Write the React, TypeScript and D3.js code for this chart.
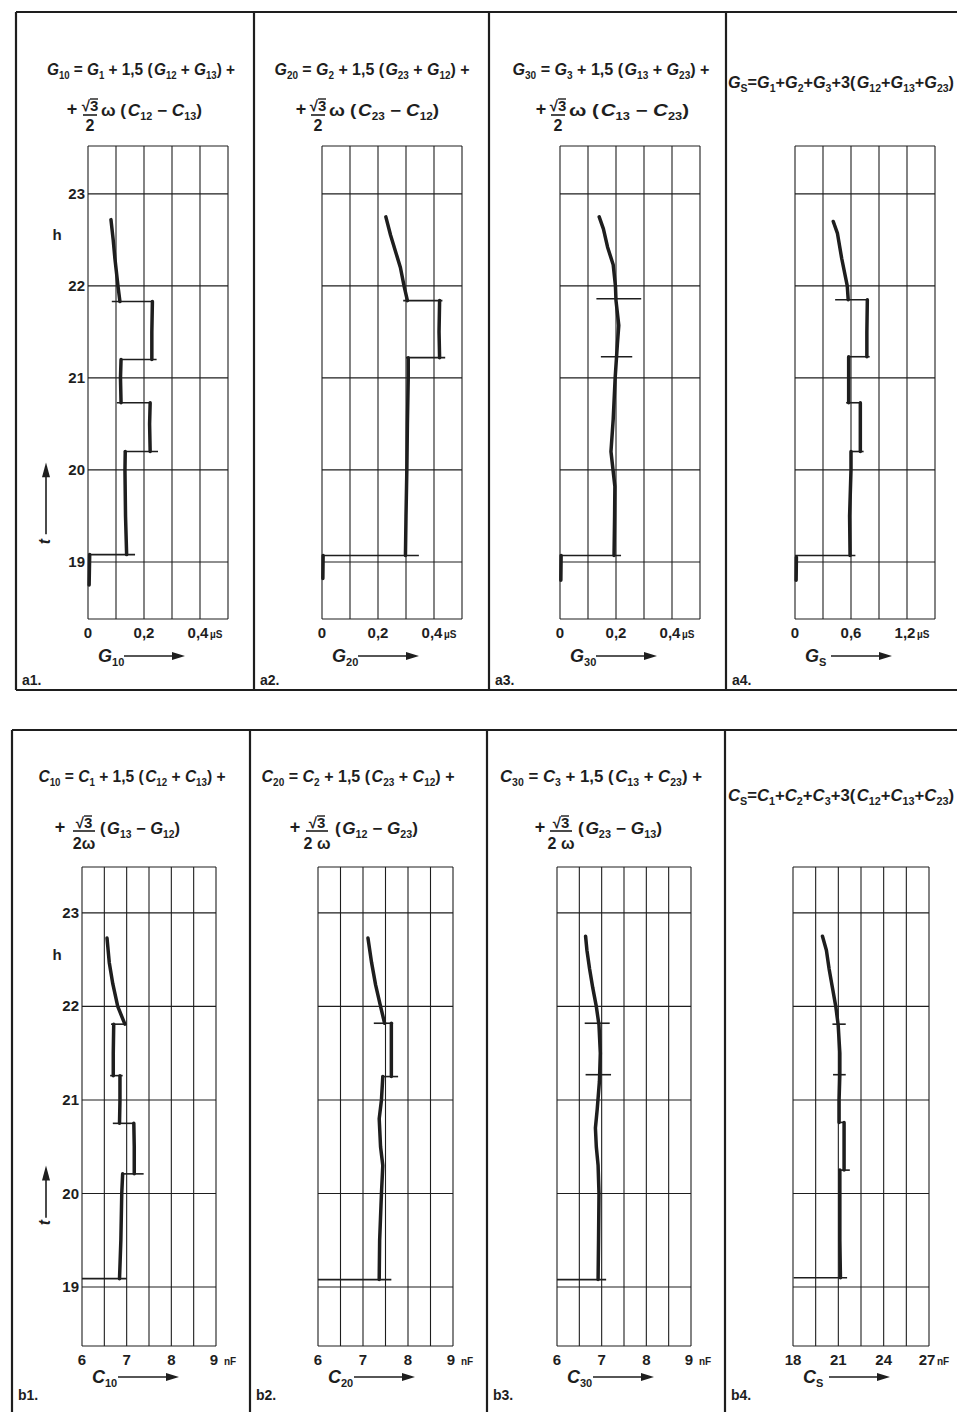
import React from "react";
import * as d3 from "d3";

const width = 957;
const height = 1412;

type Pt = [number, number] | null; // [hour, value], null = pen lifted
type Mark = [number, number, number]; // [hour, from, to]

// vertical axis (time of day)
const hourTicks = [19, 20, 21, 22, 23];

// horizontal tick labels
const gTicks = [0, 0.2, 0.4];
const gsTicks = [0, 0.6, 1.2];
const cTicks = [6, 7, 8, 9];
const csTicks = [18, 21, 24, 27];

// G10 trace (µS)
const g10Trace: Pt[] = [
  [18.75, 0.004], [19.08, 0.006], null,
  [19.08, 0.138], [19.5, 0.134], [20.0, 0.132], [20.2, 0.133], null,
  [20.2, 0.222], [20.5, 0.22], [20.73, 0.222], null,
  [20.73, 0.118], [21.0, 0.116], [21.2, 0.118], null,
  [21.2, 0.228], [21.5, 0.228], [21.83, 0.23], null,
  [21.83, 0.114], [22.0, 0.107], [22.3, 0.096], [22.5, 0.09], [22.72, 0.082],
];
const g10Marks: Mark[] = [
  [19.08, 0, 0.168], [20.2, 0.128, 0.25], [20.73, 0.103, 0.225],
  [21.2, 0.115, 0.245], [21.83, 0.085, 0.232],
];

// G20 trace
const g20Trace: Pt[] = [
  [18.82, 0.003], [19.07, 0.004], null,
  [19.07, 0.298], [19.5, 0.3], [20.0, 0.303], [20.5, 0.305], [21.0, 0.308], [21.22, 0.308], null,
  [21.22, 0.42], [21.5, 0.418], [21.84, 0.42], null,
  [21.84, 0.305], [22.0, 0.293], [22.2, 0.28], [22.35, 0.265], [22.55, 0.245], [22.75, 0.228],
];
const g20Marks: Mark[] = [[19.07, 0, 0.346], [21.22, 0.3, 0.44], [21.84, 0.29, 0.43]];

// G30 trace
const g30Trace: Pt[] = [
  [18.8, 0.003], [19.07, 0.004], null,
  [19.07, 0.193], [19.5, 0.195], [19.82, 0.196], [20.2, 0.182], [20.55, 0.19], [21.0, 0.197],
  [21.37, 0.205], [21.57, 0.21], [21.84, 0.2], [22.0, 0.198], [22.23, 0.19], [22.42, 0.17],
  [22.62, 0.155], [22.75, 0.14],
];
const g30Marks: Mark[] = [[19.07, 0, 0.218], [21.23, 0.146, 0.258], [21.86, 0.13, 0.29]];

// GS trace
const gsTrace: Pt[] = [
  [18.8, 0.012], [19.05, 0.015], null,
  [19.07, 0.59], [19.5, 0.585], [20.0, 0.6], [20.2, 0.6], null,
  [20.2, 0.7], [20.5, 0.7], [20.73, 0.7], null,
  [20.73, 0.575], [21.0, 0.575], [21.23, 0.575], null,
  [21.23, 0.77], [21.5, 0.77], [21.85, 0.775], null,
  [21.85, 0.57], [22.0, 0.56], [22.3, 0.5], [22.57, 0.455], [22.7, 0.41],
];
const gsMarks: Mark[] = [
  [19.07, 0, 0.647], [20.2, 0.6, 0.735], [20.73, 0.548, 0.7],
  [21.23, 0.576, 0.8], [21.85, 0.43, 0.78],
];

// C10 trace (nF)
const c10Trace: Pt[] = [
  [19.09, 6.84], [19.5, 6.87], [20.0, 6.89], [20.21, 6.91], null,
  [20.21, 7.17], [20.5, 7.17], [20.75, 7.16], null,
  [20.75, 6.84], [21.0, 6.85], [21.26, 6.85], null,
  [21.26, 6.7], [21.5, 6.7], [21.81, 6.71], null,
  [21.81, 6.96], [22.0, 6.8], [22.24, 6.69], [22.47, 6.61], [22.73, 6.56],
];
const c10Marks: Mark[] = [
  [19.09, 6.0, 7.0], [20.21, 6.91, 7.38], [20.75, 6.69, 7.17],
  [21.26, 6.63, 6.91], [21.81, 6.65, 7.0],
];

// C20 trace
const c20Trace: Pt[] = [
  [19.08, 7.36], [19.5, 7.37], [20.0, 7.41], [20.3, 7.44], [20.5, 7.39], [20.8, 7.36],
  [21.0, 7.41], [21.25, 7.44], null,
  [21.25, 7.63], [21.5, 7.63], [21.82, 7.63], null,
  [21.82, 7.48], [22.0, 7.39], [22.23, 7.28], [22.47, 7.19], [22.73, 7.11],
];
const c20Marks: Mark[] = [[19.08, 6.0, 7.63], [21.25, 7.41, 7.78], [21.82, 7.24, 7.67]];

// C30 trace
const c30Trace: Pt[] = [
  [19.08, 6.92], [19.5, 6.93], [20.0, 6.94], [20.3, 6.92], [20.5, 6.88], [20.7, 6.86],
  [20.9, 6.9], [21.2, 6.95], [21.5, 6.97], [21.8, 6.94], [22.0, 6.88], [22.2, 6.8],
  [22.4, 6.73], [22.6, 6.67], [22.75, 6.64],
];
const c30Marks: Mark[] = [[19.08, 6.0, 7.1], [21.27, 6.64, 7.21], [21.82, 6.62, 7.18]];

// CS trace
const csTrace: Pt[] = [
  [19.1, 21.14], [19.5, 21.1], [20.0, 21.1], [20.25, 21.1], null,
  [20.25, 21.38], [20.5, 21.38], [20.76, 21.38], null,
  [20.76, 21.05], [21.0, 21.05], [21.27, 21.1], [21.5, 21.1], [21.8, 20.99], [22.0, 20.83],
  [22.2, 20.61], [22.4, 20.39], [22.6, 20.21], [22.75, 19.95],
];
const csMarks: Mark[] = [
  [19.1, 18.04, 21.58], [20.25, 20.99, 21.76], [20.76, 20.99, 21.43],
  [21.27, 20.65, 21.49], [21.81, 20.61, 21.49],
];

// formulas
const line1 = [
  "G_{10} = G_{1} + 1,5 (G_{12} + G_{13}) +",
  "G_{20} = G_{2} + 1,5 (G_{23} + G_{12}) +",
  "G_{30} = G_{3} + 1,5 (G_{13} + G_{23}) +",
  "G_{S}=G_{1}+G_{2}+G_{3}+3(G_{12}+G_{13}+G_{23})",
  "C_{10} = C_{1} + 1,5 (C_{12} + C_{13}) +",
  "C_{20} = C_{2} + 1,5 (C_{23} + C_{12}) +",
  "C_{30} = C_{3} + 1,5 (C_{13} + C_{23}) +",
  "C_{S}=C_{1}+C_{2}+C_{3}+3(C_{12}+C_{13}+C_{23})",
];
const line2 = [
  "ω (C_{12} − C_{13})",
  "ω (C_{23} − C_{12})",
  "ω (C_{13} − C_{23})",
  "",
  "(G_{13} − G_{12})",
  "(G_{12} − G_{23})",
  "(G_{23} − G_{13})",
  "",
];
const fracDen = ["2", "2", "2", "", "2ω", "2 ω", "2 ω", ""];
const axisNames = ["G_{10}", "G_{20}", "G_{30}", "G_{S}", "C_{10}", "C_{20}", "C_{30}", "C_{S}"];
const panelLabels = ["a1.", "a2.", "a3.", "a4.", "b1.", "b2.", "b3.", "b4."];

const topRow = { top: 146, bottom: 619, hours: [18.38, 23.52], frameTop: 12, frameBottom: 690 };
const botRow = { top: 867, bottom: 1346, hours: [18.37, 23.49], frameTop: 730, frameBottom: 1420 };

const panels = [
  { row: topRow, fx: 16, gx: 88, gw: 140, dom: [0, 0.5], cols: 5, ticks: gTicks, unit: "µS", trace: g10Trace, marks: g10Marks, t1x: 141, t1w: 188, plus: 72, frac: 90, rest: 101, restW: 101, hours: true },
  { row: topRow, fx: 254, gx: 322, gw: 140, dom: [0, 0.5], cols: 5, ticks: gTicks, unit: "µS", trace: g20Trace, marks: g20Marks, t1x: 372, t1w: 195, plus: 301, frac: 318, rest: 329, restW: 110, hours: false },
  { row: topRow, fx: 489, gx: 560, gw: 140, dom: [0, 0.5], cols: 5, ticks: gTicks, unit: "µS", trace: g30Trace, marks: g30Marks, t1x: 611, t1w: 197, plus: 541, frac: 558, rest: 569, restW: 120, hours: false },
  { row: topRow, fx: 726, gx: 795, gw: 140, dom: [0, 1.5], cols: 5, ticks: gsTicks, unit: "µS", trace: gsTrace, marks: gsMarks, t1x: 728, t1w: 226, plus: 0, frac: 0, rest: 0, restW: 0, hours: false },
  { row: botRow, fx: 12, gx: 82, gw: 134, dom: [6, 9], cols: 6, ticks: cTicks, unit: "nF", trace: c10Trace, marks: c10Marks, t1x: 132, t1w: 187, plus: 60, frac: 84, rest: 100, restW: 80, hours: true },
  { row: botRow, fx: 250, gx: 318, gw: 135, dom: [6, 9], cols: 6, ticks: cTicks, unit: "nF", trace: c20Trace, marks: c20Marks, t1x: 358, t1w: 193, plus: 295, frac: 317, rest: 335, restW: 83, hours: false },
  { row: botRow, fx: 487, gx: 557, gw: 134, dom: [6, 9], cols: 6, ticks: cTicks, unit: "nF", trace: c30Trace, marks: c30Marks, t1x: 601, t1w: 202, plus: 540, frac: 561, rest: 578, restW: 84, hours: false },
  { row: botRow, fx: 725, gx: 793, gw: 136, dom: [18, 27], cols: 6, ticks: csTicks, unit: "nF", trace: csTrace, marks: csMarks, t1x: 728, t1w: 226, plus: 0, frac: 0, rest: 0, restW: 0, hours: false },
];

const ink = "#1e1e1e";
const font = "'Liberation Sans', Arial, sans-serif";
const fmt = (v: number) => String(v).replace(".", ",");

function parse(s: string) {
  const out: { t: string; it: boolean; sub?: string }[] = [];
  const re = /([GCω])(?:_\{([^}]*)\})?|([^GCω]+)/g;
  let m: RegExpExecArray | null;
  while ((m = re.exec(s))) {
    if (m[1]) out.push({ t: m[1], it: m[1] !== "ω", sub: m[2] });
    else out.push({ t: m[3], it: false });
  }
  return out;
}

// one line of formula text: italic letters, lowered small subscripts
function Formula({ x, y, s, size = 16, anchor = "middle", len }: any) {
  let shift = 0;
  let prev = "";
  const sub = Math.round(size * 0.62);
  const nodes: any[] = [];
  parse(s).forEach((p, i) => {
    nodes.push(
      <tspan
        key={i + "a"}
        dx={p.it && prev.endsWith("(") ? 1.5 : 0}
        dy={-shift}
        fontStyle={p.it ? "italic" : "normal"}
      >
        {p.t}
      </tspan>
    );
    prev = p.t;
    shift = 0;
    if (p.sub) {
      nodes.push(
        <tspan key={i + "b"} dy={4} fontSize={sub} fontStyle="normal">
          {p.sub}
        </tspan>
      );
      shift = 4;
      prev = p.sub;
    }
  });
  return (
    <text
      x={x}
      y={y}
      textAnchor={anchor}
      fontSize={size}
      fontWeight="bold"
      fill={ink}
      textLength={len}
      lengthAdjust={len ? "spacingAndGlyphs" : undefined}
    >
      {nodes}
    </text>
  );
}

function Panel({ p, i }: any) {
  const { row } = p;
  const x = d3.scaleLinear().domain(p.dom).range([p.gx, p.gx + p.gw]);
  const y = d3.scaleLinear().domain(row.hours).range([row.bottom, row.top]);
  const line = d3
    .line<Pt>()
    .defined((d) => d !== null)
    .x((d) => x((d as [number, number])[1]))
    .y((d) => y((d as [number, number])[0]));
  const colVals = d3.range(p.cols + 1).map((k) => p.dom[0] + (k * (p.dom[1] - p.dom[0])) / p.cols);
  const rowVals = [...row.hours, ...hourTicks];
  const top = row === topRow;
  const lastTick = p.ticks[p.ticks.length - 1];
  const tickY = row.bottom + 19;
  const nameY = row.bottom + (top ? 43 : 37);
  const arrowY = nameY - 6;
  const isWide = p.plus === 0;

  // formula positions
  const l1y = top ? 75 : 782;
  const numY = top ? 111 : 828;
  const barY = top ? 115 : 831;
  const denY = top ? 131 : 849;
  const restY = top ? 116 : 834;

  return (
    <g>
      {isWide ? (
        <Formula x={p.t1x} y={top ? 88 : 801} s={line1[i]} anchor="start" len={p.t1w} size={17} />
      ) : (
        <>
          <Formula x={p.t1x} y={l1y} s={line1[i]} len={p.t1w} />
          <text x={p.plus} y={restY - 1} textAnchor="middle" fontSize={18} fontWeight="bold" fill={ink}>
            +
          </text>
          <text x={p.frac} y={numY} textAnchor="middle" fontSize={15} fontWeight="bold" fill={ink}>
            √3
          </text>
          <line x1={p.frac} x2={p.frac + 8} y1={numY - 12} y2={numY - 12} stroke={ink} strokeWidth={1.4} />
          <line x1={p.frac - (top ? 7 : 11)} x2={p.frac + (top ? 7 : 11)} y1={barY} y2={barY} stroke={ink} strokeWidth={1.6} />
          <Formula x={p.frac} y={denY} s={fracDen[i]} size={16} />
          <Formula x={p.rest} y={restY} s={line2[i]} anchor="start" len={p.restW} />
        </>
      )}

      {/* grid */}
      {colVals.map((v: number) => (
        <line key={"c" + v} x1={x(v)} x2={x(v)} y1={row.top} y2={row.bottom} stroke={ink} strokeWidth={1.1} />
      ))}
      {rowVals.map((h: number) => (
        <line key={"r" + h} x1={p.gx} x2={p.gx + p.gw} y1={y(h)} y2={y(h)} stroke={ink} strokeWidth={1.1} />
      ))}

      {/* step markers and trace */}
      {p.marks.map((m: Mark, k: number) => (
        <line key={"m" + k} x1={x(m[1])} x2={x(m[2])} y1={y(m[0])} y2={y(m[0])} stroke={ink} strokeWidth={1.6} />
      ))}
      <path d={line(p.trace) ?? ""} fill="none" stroke={ink} strokeWidth={3.5} strokeLinecap="round" strokeLinejoin="round" />

      {/* x tick labels */}
      {p.ticks.map((v: number) => (
        <text key={"t" + v} x={x(v) - (v === lastTick ? 2 : 0)} y={tickY} textAnchor="middle" fontSize={15} fontWeight="bold" fill={ink}>
          {fmt(v)}
        </text>
      ))}
      <text x={x(lastTick) + (top ? 10 : 8)} y={tickY} fontSize={10} fontWeight="bold" fill={ink}>
        {p.unit}
      </text>

      {/* axis name with arrow */}
      <Formula x={p.gx + 10} y={nameY} s={axisNames[i]} size={18} anchor="start" />
      <line x1={p.gx + 36} x2={p.gx + 86} y1={arrowY} y2={arrowY} stroke={ink} strokeWidth={1.6} />
      <path d={`M${p.gx + 97},${arrowY} L${p.gx + 84},${arrowY - 4} L${p.gx + 84},${arrowY + 4} Z`} fill={ink} />

      {/* hours */}
      {p.hours && (
        <g>
          {hourTicks.map((h) => (
            <text key={"h" + h} x={p.gx - 3} y={y(h) + 5} textAnchor="end" fontSize={15} fontWeight="bold" fill={ink}>
              {h}
            </text>
          ))}
          <text x={57} y={y(22.55) + 5} textAnchor="middle" fontSize={15} fontWeight="bold" fill={ink}>
            h
          </text>
          <line x1={46} x2={46} y1={y(top ? 19.3 : 19.74)} y2={y(top ? 20.0 : 20.23)} stroke={ink} strokeWidth={1.6} />
          <path
            d={`M46,${y(top ? 20.08 : 20.3)} L42,${y(top ? 19.92 : 20.14)} L50,${y(top ? 19.92 : 20.14)} Z`}
            fill={ink}
          />
          <text
            transform={`translate(${50}, ${y(top ? 19.22 : 19.69)}) rotate(-90)`}
            textAnchor="middle"
            fontSize={16}
            fontWeight="bold"
            fontStyle="italic"
            fill={ink}
          >
            t
          </text>
        </g>
      )}

      <text x={p.fx + 6} y={row === topRow ? 685 : 1400} fontSize={14} fontWeight="bold" fill={ink}>
        {panelLabels[i]}
      </text>
    </g>
  );
}

export default function App() {
  const frameLines = [topRow, botRow];
  return (
    <svg
      width={width}
      height={height}
      style={{ position: "absolute", left: 0, top: 0, background: "#fff", fontFamily: font }}
    >
      <rect width={width} height={height} fill="#fff" />
      {frameLines.map((row, r) => {
        const ps = panels.filter((p) => p.row === row);
        return (
          <g key={r} stroke={ink} strokeWidth={2.2}>
            <line x1={ps[0].fx} x2={width} y1={row.frameTop} y2={row.frameTop} />
            <line x1={ps[0].fx} x2={width} y1={row.frameBottom} y2={row.frameBottom} />
            {ps.map((p) => (
              <line key={p.fx} x1={p.fx} x2={p.fx} y1={row.frameTop} y2={row.frameBottom} />
            ))}
          </g>
        );
      })}
      {panels.map((p, i) => (
        <Panel key={i} p={p} i={i} />
      ))}
    </svg>
  );
}
